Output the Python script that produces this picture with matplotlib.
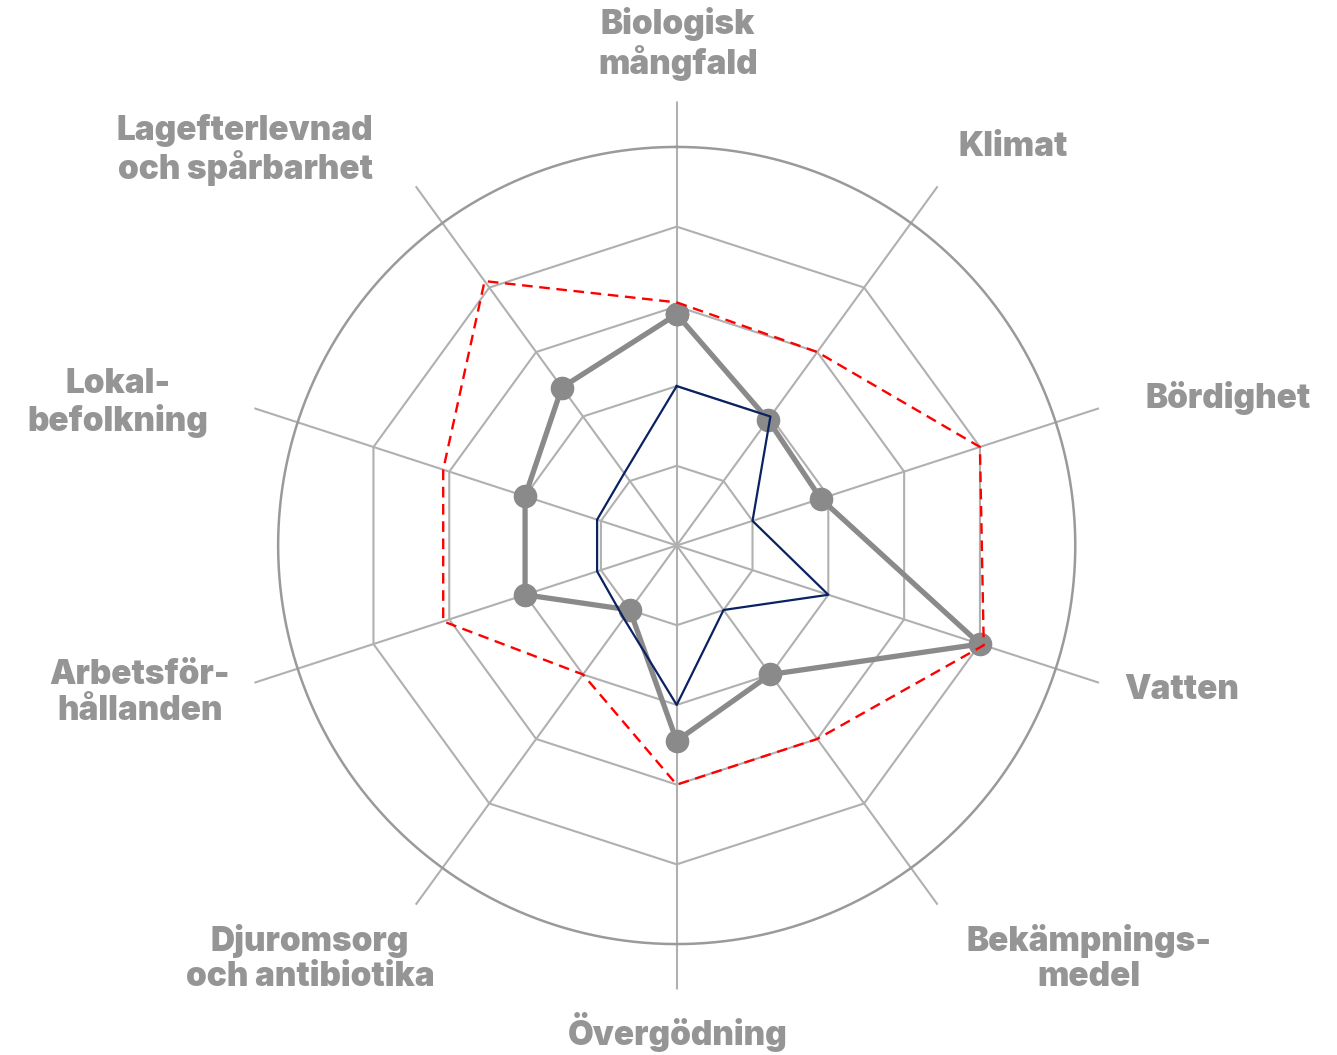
#!/usr/bin/env python3

import matplotlib
matplotlib.use("Agg")
import matplotlib.pyplot as plt
import numpy as np

# axes, clockwise from the top
categories = ["Biologisk\nmångfald", "Klimat", "Bördighet", "Vatten",
              "Bekämpnings-\nmedel", "Övergödning", "Djuromsorg\noch antibiotika",
              "Arbetsför-\nhållanden", "Lokal-\nbefolkning", "Lagefterlevnad\noch spårbarhet"]

gray_values = [2.9, 1.95, 1.9, 4.0, 2.0, 2.45, 1.0, 2.0, 2.0, 2.45]
navy_values = [2.0, 2.0, 1.0, 2.0, 1.0, 2.0, 1.13, 1.05, 1.05, 1.12]
red_values = [3.05, 3.0, 4.0, 4.05, 3.0, 3.0, 2.0, 3.08, 3.08, 4.1]

grid_levels = [1, 2, 3, 4]
outer_level = 5

# label centres in figure pixels (x, y from top)
label_pos = [(678, 44), (1013, 147), (1228, 398), (1182, 690), (1089, 958),
             (678, 1032), (310, 958), (140, 693), (118, 403), (245, 150)]

W, H = 1337, 1055
fig = plt.figure(figsize=(W / 100, H / 100), dpi=100)

# centre at (676.7, 545.5), spokes reach 444 px
rmax = 5.57
rad = 444
ax = fig.add_axes([(676.7 - rad) / W, (H - 545.5 - rad) / H, 2 * rad / W, 2 * rad / H],
                  projection="polar")
ax.set_theta_offset(np.pi / 2)
ax.set_theta_direction(-1)
ax.set_ylim(0, rmax)
ax.grid(False)
ax.set_xticks([])
ax.set_yticks([])
ax.spines["polar"].set_visible(False)
ax.patch.set_alpha(0)

n = len(categories)
angles = np.linspace(0, 2 * np.pi, n, endpoint=False)
closed = np.append(angles, angles[0])

# web
for a in angles:
    ax.plot([a, a], [0, rmax], color="#b0b0b0", lw=1.5, zorder=1)
for lvl in grid_levels:
    ax.plot(closed, [lvl] * (n + 1), color="#b0b0b0", lw=1.5, zorder=1)
circ = np.linspace(0, 2 * np.pi, 500)
ax.plot(circ, [outer_level] * len(circ), color="#9a9a9a", lw=1.8, zorder=1)

def close(v):
    return list(v) + [v[0]]

ax.plot(closed, close(gray_values), color="#8a8a8a", lw=3.8, marker="o",
        markersize=16, zorder=3)
ax.plot(closed, close(navy_values), color="#0a2260", lw=1.6, zorder=4)
ax.plot(closed, close(red_values), color="#ff0000", lw=1.7, ls=(0, (4.5, 2.8)), zorder=5)

for lab, (x, y) in zip(categories, label_pos):
    fig.text(x / W, 1 - y / H, lab, ha="center", va="center", fontsize=24,
             fontweight="black", family=["Inter", "DejaVu Sans"], color="#959595",
             linespacing=1.12, multialignment="center")

fig.savefig("out.png", dpi=100)
